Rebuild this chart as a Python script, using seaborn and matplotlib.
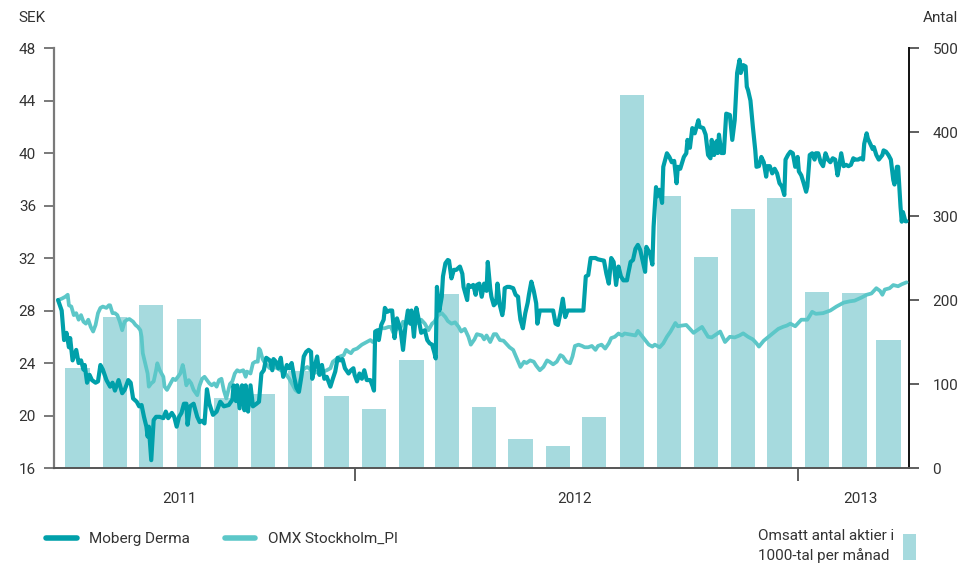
import pandas as pd
import matplotlib
matplotlib.use("Agg")
import matplotlib.pyplot as plt
import matplotlib.dates as mdates
import matplotlib.ticker as mticker
from matplotlib.patches import Patch
from matplotlib.lines import Line2D
import seaborn as sns

start = pd.Timestamp("2011-05-01")

# Moberg Derma closing price, SEK (day offset from start)
moberg_days = [
    0, 3, 5, 7, 9, 10, 12, 15, 17, 19,
    21, 22, 24, 26, 28, 31, 33, 35, 37, 40,
    43, 45, 47, 50, 53, 55, 58, 60, 62, 65,
    67, 69, 71, 73, 74, 75, 77, 79, 81, 84,
    87, 89, 91, 94, 96, 98, 100, 102, 104, 106,
    107, 109, 112, 115, 117, 119, 121, 123, 125, 128,
    131, 134, 137, 141, 144, 145, 147, 148, 150, 152,
    154, 155, 157, 159, 161, 164, 166, 168, 170, 172,
    175, 177, 178, 180, 182, 184, 186, 189, 191, 193,
    195, 197, 199, 201, 203, 205, 207, 209, 210, 212,
    214, 216, 218, 220, 222, 225, 227, 229, 231, 233,
    235, 237, 240, 242, 244, 245, 247, 249, 251, 253,
    255, 258, 260, 261, 262, 264, 265, 267, 269, 270,
    272, 274, 276, 278, 280, 283, 285, 287, 289, 291,
    292, 294, 296, 298, 300, 303, 305, 307, 309, 311,
    312, 313, 315, 317, 318, 320, 322, 323, 325, 327,
    329, 332, 334, 335, 338, 339, 341, 343, 345, 346,
    348, 350, 352, 354, 355, 357, 358, 360, 362, 363,
    365, 367, 368, 369, 371, 373, 376, 378, 380, 381,
    382, 384, 386, 388, 389, 391, 393, 395, 396, 398,
    404, 409, 411, 413, 415, 417, 419, 421, 434, 436,
    438, 440, 444, 446, 451, 453, 455, 457, 459, 461,
    463, 465, 467, 470, 471, 473, 475, 477, 479, 481,
    484, 485, 486, 489, 491, 492, 494, 495, 497, 499,
    500, 503, 505, 507, 509, 511, 512, 514, 517, 519,
    520, 522, 524, 526, 529, 530, 533, 535, 537, 539,
    540, 542, 544, 545, 546, 548, 550, 552, 555, 557,
    559, 561, 563, 564, 566, 568, 569, 570, 572, 574,
    576, 577, 579, 581, 583, 585, 586, 588, 590, 592,
    594, 596, 598, 600, 601, 603, 605, 607, 609, 611,
    612, 614, 616, 618, 619, 621, 623, 625, 626, 628,
    630, 632, 634, 636, 638, 640, 642, 644, 645, 647,
    649, 651, 653, 655, 657, 658, 661, 663, 665, 666,
    668, 669, 671, 673, 674, 676, 678, 681, 682, 684,
    686, 688, 690, 691, 693, 694, 696, 697, 698, 700,
    701,
]
moberg_sek = [
    28.8, 28.0, 25.75, 26.3, 25.2, 25.9, 24.2, 25.0, 24.0, 24.2,
    23.5, 23.85, 22.5, 23.1, 22.7, 22.5, 22.6, 23.85, 23.5, 22.7,
    22.2, 22.5, 21.9, 22.7, 21.7, 21.95, 22.7, 22.5, 21.3, 21.05,
    20.7, 20.8, 19.9, 19.15, 18.4, 19.15, 16.6, 19.65, 19.9, 19.9,
    19.8, 20.3, 19.8, 20.2, 19.9, 19.15, 19.9, 20.2, 20.9, 20.9,
    19.3, 20.7, 20.9, 19.9, 19.5, 19.6, 19.4, 22.0, 20.9, 20.05,
    20.3, 21.05, 20.7, 20.8, 21.2, 22.3, 21.1, 22.3, 20.55, 22.3,
    20.4, 22.3, 20.3, 22.3, 20.7, 20.9, 21.05, 23.2, 23.45, 24.4,
    24.2, 23.45, 24.3, 24.1, 23.6, 24.4, 22.95, 23.85, 23.6, 24.0,
    22.95, 22.1, 21.8, 22.95, 24.5, 24.85, 25.0, 24.85, 22.8, 23.7,
    24.5, 23.1, 23.85, 22.8, 22.95, 22.2, 22.8, 23.35, 24.4, 24.2,
    24.3, 23.6, 23.2, 23.45, 23.6, 23.1, 22.6, 23.2, 22.8, 23.45,
    22.7, 22.7, 22.2, 21.9, 26.4, 26.5, 25.75, 26.9, 27.3, 28.2,
    27.9, 28.0, 28.0, 25.9, 27.4, 26.5, 25.0, 26.8, 28.0, 27.0,
    28.0, 26.0, 28.2, 27.3, 26.3, 26.5, 25.75, 25.5, 25.4, 24.75,
    24.35, 29.8, 28.0, 29.05, 30.6, 31.6, 31.85, 31.8, 30.45, 31.1,
    31.1, 31.35, 30.8, 29.8, 28.8, 29.95, 29.8, 29.95, 29.2, 29.95,
    30.05, 29.05, 30.05, 29.5, 31.7, 29.7, 29.05, 28.4, 28.6, 30.05,
    28.4, 27.65, 28.2, 29.7, 29.8, 29.8, 29.7, 29.2, 29.05, 28.05,
    27.3, 26.65, 27.8, 28.6, 29.2, 30.2, 29.5, 28.55, 27.0, 28.0,
    28.0, 28.0, 27.0, 26.9, 27.8, 28.9, 27.5, 28.0, 28.0, 30.6,
    30.7, 32.0, 32.0, 31.9, 31.8, 30.8, 30.05, 32.0, 31.7, 29.95,
    31.35, 30.6, 30.3, 30.3, 30.8, 31.7, 31.85, 32.7, 33.0, 32.6,
    31.35, 30.95, 32.85, 32.35, 31.5, 34.4, 37.4, 36.7, 37.2, 36.2,
    38.95, 39.98, 39.7, 39.3, 39.4, 37.7, 38.95, 38.8, 39.7, 39.98,
    41.0, 40.4, 41.9, 41.5, 42.5, 42.0, 41.9, 41.4, 39.85, 39.6,
    41.0, 39.85, 40.9, 40.0, 41.4, 40.0, 40.0, 43.0, 42.9, 41.0,
    42.5, 46.1, 47.1, 46.1, 46.7, 46.6, 45.05, 44.8, 44.0, 42.0,
    40.2, 38.95, 39.0, 39.7, 39.3, 38.2, 39.0, 39.0, 38.45, 38.8,
    38.45, 37.7, 37.45, 36.8, 39.5, 39.85, 40.1, 39.98, 38.95, 39.7,
    38.6, 38.3, 37.7, 37.05, 37.45, 39.85, 39.98, 39.5, 39.98, 39.98,
    39.3, 39.0, 39.98, 39.5, 39.3, 39.6, 39.5, 38.3, 38.8, 39.98,
    39.0, 39.1, 39.0, 39.1, 39.6, 39.5, 39.5, 39.6, 39.5, 40.7,
    41.5, 41.1, 40.7, 40.3, 40.45, 39.85, 39.5, 39.85, 40.2, 40.1,
    39.85, 39.5, 37.95, 37.6, 38.95, 38.95, 35.9, 34.77, 35.5, 34.8,
    34.8,
]

# OMX Stockholm_PI, rebased to SEK scale (day offset from start)
omx_days = [
    0, 3, 6, 8, 9, 11, 13, 15, 17, 19,
    21, 23, 25, 27, 29, 31, 33, 35, 37, 40,
    42, 43, 45, 47, 49, 51, 53, 55, 57, 59,
    62, 64, 66, 68, 69, 70, 72, 74, 75, 77,
    79, 81, 82, 84, 87, 88, 90, 93, 95, 97,
    99, 101, 103, 104, 106, 108, 110, 112, 115, 117,
    119, 121, 123, 125, 127, 129, 131, 133, 135, 137,
    139, 142, 144, 146, 148, 150, 153, 155, 156, 159,
    161, 163, 165, 166, 167, 169, 171, 175, 179, 183,
    187, 191, 194, 196, 198, 200, 202, 204, 206, 209,
    211, 214, 216, 219, 222, 225, 227, 230, 233, 236,
    238, 240, 242, 244, 247, 249, 251, 253, 255, 258,
    260, 262, 264, 267, 270, 273, 275, 277, 280, 283,
    285, 288, 291, 294, 296, 298, 300, 303, 306, 309,
    311, 314, 317, 320, 322, 325, 328, 331, 333, 336,
    339, 341, 344, 346, 350, 352, 354, 357, 360, 362,
    365, 368, 371, 373, 376, 379, 382, 385, 387, 390,
    393, 395, 398, 401, 404, 406, 409, 412, 415, 417,
    420, 423, 425, 427, 430, 433, 435, 438, 441, 444,
    446, 449, 452, 455, 457, 460, 463, 466, 468, 471,
    474, 477, 479, 482, 485, 488, 491, 493, 497, 500,
    503, 506, 510, 512, 515, 519, 522, 525, 528, 532,
    535, 537, 540, 544, 547, 551, 555, 559, 563, 566,
    570, 574, 577, 579, 583, 587, 591, 595, 599, 602,
    605, 609, 614, 619, 623, 626, 632, 638, 643, 649,
    654, 658, 664, 668, 672, 676, 679, 681, 683, 687,
    690, 694, 697, 701,
]
omx_sek = [
    28.8, 28.9, 29.05, 29.2, 28.4, 28.3, 27.65, 27.8, 27.3, 27.65,
    27.15, 27.0, 27.3, 26.75, 26.4, 26.9, 27.8, 28.2, 28.3, 28.2,
    28.4, 28.4, 27.8, 27.8, 27.65, 27.15, 26.5, 27.15, 27.3, 27.35,
    27.15, 26.9, 26.75, 26.5, 26.0, 24.75, 23.98, 23.2, 22.2, 22.45,
    22.6, 23.45, 23.98, 23.45, 22.95, 22.2, 21.95, 22.45, 22.8, 22.7,
    22.95, 23.2, 23.85, 23.45, 22.3, 22.7, 22.45, 21.95, 21.55, 22.3,
    22.8, 22.95, 22.7, 22.45, 22.3, 22.45, 22.2, 22.7, 22.8, 21.9,
    21.3, 22.4, 22.6, 23.2, 23.45, 23.35, 23.45, 22.95, 23.35, 23.2,
    23.98, 24.1, 24.1, 25.1, 24.98, 24.3, 23.98, 23.6, 23.7, 23.5,
    23.3, 22.8, 22.3, 21.95, 21.8, 22.7, 23.45, 23.6, 23.7, 23.45,
    23.2, 23.35, 23.1, 23.35, 23.45, 23.6, 24.1, 24.3, 24.5, 24.6,
    25.0, 24.85, 24.75, 25.0, 25.1, 25.25, 25.4, 25.5, 25.6, 25.75,
    25.6, 25.75, 26.3, 26.65, 26.65, 26.75, 26.75, 26.3, 26.6, 26.7,
    27.15, 27.0, 27.3, 27.0, 27.3, 27.0, 27.3, 27.0, 26.5, 27.0,
    27.15, 27.65, 27.8, 27.5, 27.2, 27.0, 27.1, 26.75, 26.4, 26.6,
    26.0, 25.4, 25.8, 26.2, 26.1, 25.8, 26.1, 25.6, 26.2, 26.2,
    25.75, 25.7, 25.4, 25.2, 25.0, 24.35, 23.7, 24.1, 24.0, 24.2,
    24.1, 23.8, 23.45, 23.7, 24.2, 24.1, 23.9, 24.1, 24.6, 24.5,
    24.1, 23.98, 24.5, 25.3, 25.4, 25.3, 25.2, 25.2, 25.3, 25.0,
    25.3, 25.4, 25.1, 25.5, 25.9, 26.0, 26.25, 26.1, 26.25, 26.2,
    26.15, 26.1, 26.45, 26.1, 25.75, 25.4, 25.25, 25.4, 25.2, 25.5,
    26.0, 26.4, 27.05, 26.8, 26.85, 26.9, 26.6, 26.3, 26.5, 26.75,
    26.3, 26.0, 25.95, 26.2, 26.4, 25.6, 26.0, 25.95, 26.1, 26.26,
    26.0, 25.8, 25.5, 25.25, 25.7, 26.0, 26.3, 26.6, 26.76, 26.85,
    27.0, 26.8, 27.3, 27.3, 27.9, 27.75, 27.8, 28.0, 28.3, 28.6,
    28.7, 28.75, 29.0, 29.2, 29.3, 29.7, 29.5, 29.2, 29.6, 29.7,
    29.94, 29.85, 30.0, 30.15,
]

# Monthly traded shares, thousands (May 2011 - Mar 2013)
months = pd.date_range("2011-05-01", "2013-03-01", freq="MS")
volume = [119, 180, 194, 177, 83, 88, 115, 86, 70, 129,
          207, 73, 35, 26, 61, 444, 324, 251, 308, 321,
          210, 208, 152]

year_labels = ["2011", "2012", "2013"]
year_label_dates = pd.to_datetime(["2011-08-09", "2012-07-01", "2013-02-22"])
year_breaks = pd.to_datetime(["2012-01-01", "2013-01-01"])

dark = "#00a0aa"
light = "#5cc7c8"
bar_col = "#a6dade"
txt = "#333333"

moberg = pd.DataFrame({"date": start + pd.to_timedelta(moberg_days, unit="D"),
                       "sek": moberg_sek})
omx = pd.DataFrame({"date": start + pd.to_timedelta(omx_days, unit="D"),
                    "sek": omx_sek})

sns.set_theme(style="white")
plt.rcParams["font.family"] = ["Roboto", "DejaVu Sans"]

fig = plt.figure(figsize=(9.61, 5.63), dpi=100)
ax = fig.add_axes([0.0562, 0.1687, 0.8897, 0.746])
ax_bar = ax.twinx()
ax.set_zorder(ax_bar.get_zorder() + 1)
ax.patch.set_visible(False)

ax_bar.bar(months + pd.Timedelta(days=16), volume, width=20, color=bar_col, linewidth=0)

sns.lineplot(data=omx, x="date", y="sek", ax=ax, color=light, linewidth=2.7,
             estimator=None, legend=False)
sns.lineplot(data=moberg, x="date", y="sek", ax=ax, color=dark, linewidth=3.0,
             estimator=None, legend=False)

ax.set_xlim(pd.Timestamp("2011-04-27 16:00"), pd.Timestamp("2013-04-03"))
ax.set_ylim(16, 48)
ax.set_yticks(range(16, 49, 4))
ax_bar.set_ylim(0, 500)
ax_bar.set_yticks(range(0, 501, 100))
ax.set_xlabel("")
ax.set_ylabel("")

ax.xaxis.set_major_locator(mticker.FixedLocator(mdates.date2num(year_breaks)))
ax.xaxis.set_major_formatter(mticker.NullFormatter())
ax.xaxis.set_minor_locator(mticker.FixedLocator(mdates.date2num(year_label_dates)))
ax.xaxis.set_minor_formatter(mticker.FixedFormatter(year_labels))

for s in ["top", "right"]:
    ax.spines[s].set_visible(False)
for s in ["top", "left", "bottom"]:
    ax_bar.spines[s].set_visible(False)
ax.spines["left"].set_color("#7a7a7a")
ax.spines["left"].set_linewidth(1.6)
ax.spines["bottom"].set_color("#555555")
ax.spines["bottom"].set_linewidth(1.4)
ax_bar.spines["right"].set_color("#111111")
ax_bar.spines["right"].set_linewidth(1.4)

ax.tick_params(axis="y", which="major", direction="out", length=7, width=1.1,
               color="#555555", labelsize=11, labelcolor=txt, pad=6, left=True)
ax.tick_params(axis="x", which="major", direction="out", length=9, width=1.1,
               color="#333333", bottom=True)
ax.tick_params(axis="x", which="minor", length=0, labelsize=11, labelcolor=txt, pad=17)
ax_bar.tick_params(axis="y", direction="out", length=7, width=1.1, color="#333333",
                   labelsize=11, labelcolor=txt, pad=10, right=True)
ax.grid(False)
ax_bar.grid(False)

fig.text(18 / 961, 1 - 18 / 563, "SEK", fontsize=11, color=txt, va="center", ha="left")
fig.text(958 / 961, 1 - 18 / 563, "Antal", fontsize=11, color=txt, va="center", ha="right")

line_handles = [Line2D([], [], color=dark, linewidth=4, solid_capstyle="round"),
                Line2D([], [], color=light, linewidth=4, solid_capstyle="round")]
fig.legend(line_handles, ["Moberg Derma", "OMX Stockholm_PI"], loc="center left",
           bbox_to_anchor=(46 / 961, 1 - 539 / 563), ncol=2, frameon=False,
           fontsize=11, labelcolor=txt, handlelength=2.0, handletextpad=0.8,
           columnspacing=2.3, borderpad=0, borderaxespad=0)

leg2 = fig.legend([Patch(facecolor=bar_col, linewidth=0)],
                  ["Omsatt antal aktier i\n1000-tal per månad"], loc="center right",
                  bbox_to_anchor=(916 / 961, 1 - 546 / 563), frameon=False,
                  fontsize=11, labelcolor=txt, markerfirst=False, handlelength=0.85,
                  handleheight=2.2, handletextpad=0.6, borderpad=0, borderaxespad=0)
for t in leg2.get_texts():
    t.set_linespacing(1.45)

fig.savefig("out.png", dpi=100)
